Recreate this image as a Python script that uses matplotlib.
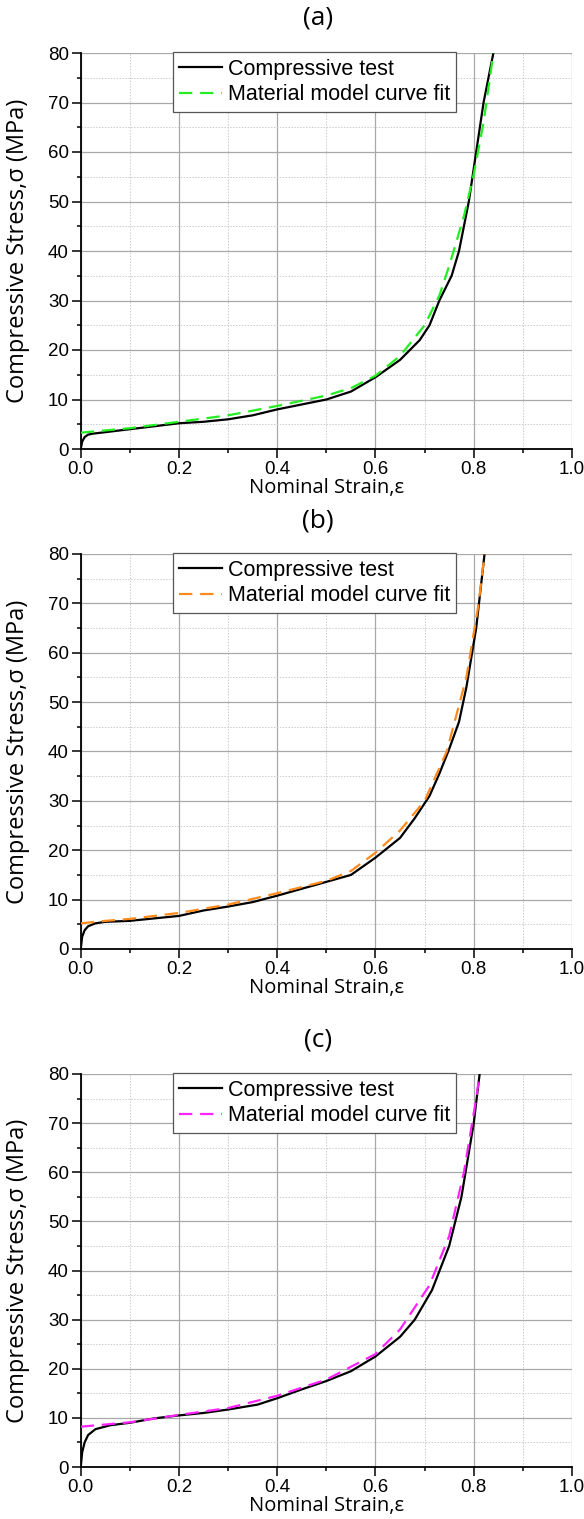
import matplotlib
matplotlib.use("Agg")
import matplotlib.pyplot as plt
from matplotlib.ticker import MultipleLocator

# ---------------- data ----------------
# Panel (a)
a_test_strain = [0.0, 0.003, 0.008, 0.015, 0.025, 0.05, 0.1, 0.15, 0.2, 0.25, 0.3, 0.35, 0.4,
                 0.45, 0.5, 0.55, 0.6, 0.65, 0.69, 0.71, 0.73, 0.755, 0.77, 0.79, 0.805, 0.82, 0.84]
a_test_stress = [0.0, 1.5, 2.4, 2.9, 3.1, 3.4, 4.0, 4.6, 5.2, 5.5, 6.0, 6.8, 8.0,
                 9.0, 10.0, 11.6, 14.5, 18.0, 22.0, 25.0, 30.0, 35.0, 40.0, 50.0, 60.0, 70.0, 80.0]
a_fit_strain = [0.0, 0.1, 0.2, 0.3, 0.4, 0.5, 0.55, 0.6, 0.65, 0.7, 0.73, 0.75, 0.78, 0.8, 0.82, 0.84]
a_fit_stress = [3.3, 4.2, 5.5, 6.8, 8.7, 10.8, 12.3, 14.8, 18.8, 25.0, 31.0, 37.0, 47.0, 55.5, 66.0, 80.0]

# Panel (b)
b_test_strain = [0.0, 0.003, 0.008, 0.015, 0.03, 0.05, 0.1, 0.15, 0.2, 0.25, 0.3, 0.35, 0.4,
                 0.45, 0.5, 0.55, 0.6, 0.65, 0.68, 0.71, 0.73, 0.75, 0.77, 0.785, 0.805, 0.822]
b_test_stress = [0.0, 2.5, 3.8, 4.6, 5.2, 5.5, 5.7, 6.2, 6.7, 7.8, 8.6, 9.5, 10.8,
                 12.2, 13.6, 15.0, 18.5, 22.5, 26.5, 31.0, 35.5, 40.5, 46.0, 53.0, 65.0, 80.0]
b_fit_strain = [0.0, 0.05, 0.1, 0.2, 0.3, 0.4, 0.5, 0.55, 0.6, 0.65, 0.7, 0.745, 0.785, 0.81, 0.822]
b_fit_stress = [5.2, 5.7, 6.1, 7.3, 9.0, 11.3, 13.8, 15.8, 19.5, 24.0, 30.0, 40.0, 55.0, 70.0, 80.0]

# Panel (c)
c_test_strain = [0.0, 0.003, 0.008, 0.015, 0.03, 0.06, 0.1, 0.15, 0.2, 0.25, 0.3, 0.36, 0.4,
                 0.45, 0.5, 0.55, 0.6, 0.65, 0.68, 0.715, 0.75, 0.775, 0.8, 0.812]
c_test_stress = [0.0, 3.0, 5.0, 6.5, 7.7, 8.5, 9.0, 9.9, 10.5, 11.0, 11.7, 12.7, 14.0,
                 15.8, 17.5, 19.5, 22.5, 26.5, 30.0, 36.0, 45.0, 55.0, 70.0, 80.0]
c_fit_strain = [0.0, 0.1, 0.2, 0.3, 0.4, 0.5, 0.6, 0.65, 0.71, 0.75, 0.78, 0.805, 0.812]
c_fit_stress = [8.2, 9.1, 10.6, 12.0, 14.5, 17.8, 23.0, 28.0, 37.0, 47.0, 60.0, 75.0, 80.0]

panel_labels = ["(a)", "(b)", "(c)"]
fit_colors = ["#22ee22", "#ff8a1c", "#ff22ff"]
x_ticks = [0.0, 0.2, 0.4, 0.6, 0.8, 1.0]
y_ticks = [0, 10, 20, 30, 40, 50, 60, 70, 80]
legend_labels = ["Compressive test", "Material model curve fit"]
xlabel = "Nominal Strain,\u03b5"
ylabel = "Compressive Stress,\u03c3 (MPa)"

series = [
    (a_test_strain, a_test_stress, a_fit_strain, a_fit_stress),
    (b_test_strain, b_test_stress, b_fit_strain, b_fit_stress),
    (c_test_strain, c_test_stress, c_fit_strain, c_fit_stress),
]

# ---------------- layout ----------------
W, H = 584, 1519
fig = plt.figure(figsize=(W / 100, H / 100), dpi=100)

tick_font = "Liberation Sans"
label_font = "Open Sans"

# (top_px, bottom_px) of axes
panels_px = [(53, 449), (554, 949), (1074, 1467)]
title_y_px = [18, 521, 1040]
left_px, right_px = 80.7, 572
axw = right_px - left_px

for i, ((top, bot), (ts, tv, fs, fv)) in enumerate(zip(panels_px, series)):
    ax = fig.add_axes([left_px / W, 1 - bot / H, axw / W, (bot - top) / H])
    ax.set_xlim(0, 1.0)
    ax.set_ylim(0, 80)
    ax.set_xticks(x_ticks)
    ax.set_yticks(y_ticks)
    ax.xaxis.set_minor_locator(MultipleLocator(0.1))
    ax.yaxis.set_minor_locator(MultipleLocator(5))
    ax.set_xticklabels([f"{v:.1f}" for v in x_ticks], fontfamily=tick_font, fontsize=13.5)
    ax.set_yticklabels([str(v) for v in y_ticks], fontfamily=tick_font, fontsize=13.5)
    ax.tick_params(which="major", direction="out", length=6.5, width=1.1, pad=2)
    ax.tick_params(which="minor", direction="out", length=3, width=1.1)
    for s in ["top", "right"]:
        ax.spines[s].set_visible(False)
    for s in ["left", "bottom"]:
        ax.spines[s].set_linewidth(1.3)
    ax.grid(which="major", color="#a8a8a8", linewidth=0.9, linestyle="-")
    ax.grid(which="minor", color="#cccccc", linewidth=0.7, linestyle=(0, (1.5, 1.5)))
    ax.set_axisbelow(True)

    ax.plot(ts, tv, color="black", linewidth=1.6, label=legend_labels[0], zorder=3)
    ax.plot(fs, fv, color=fit_colors[i], linewidth=1.6, linestyle=(0, (6, 3.5)),
            label=legend_labels[1], zorder=4)

    leg = ax.legend(loc="upper center", bbox_to_anchor=(0.476, 1.002), frameon=True, fancybox=False,
                    prop={"family": tick_font, "size": 15.5}, handlelength=2.0,
                    handletextpad=0.25, borderpad=0.3, labelspacing=0.22, borderaxespad=0)
    leg.get_frame().set_edgecolor("#555555")
    leg.get_frame().set_linewidth(0.9)
    leg.get_frame().set_alpha(1)

    ax.set_xlabel(xlabel, fontfamily=label_font, fontsize=14.5, labelpad=0)
    ax.set_ylabel(ylabel, fontfamily=label_font, fontsize=17, va="center")
    ax.yaxis.set_label_coords((18 - left_px) / axw, 0.5)

    fig.text(318 / W, 1 - title_y_px[i] / H, panel_labels[i], ha="center", va="center",
             fontfamily=label_font, fontsize=19)

fig.savefig("out.png", dpi=100)
